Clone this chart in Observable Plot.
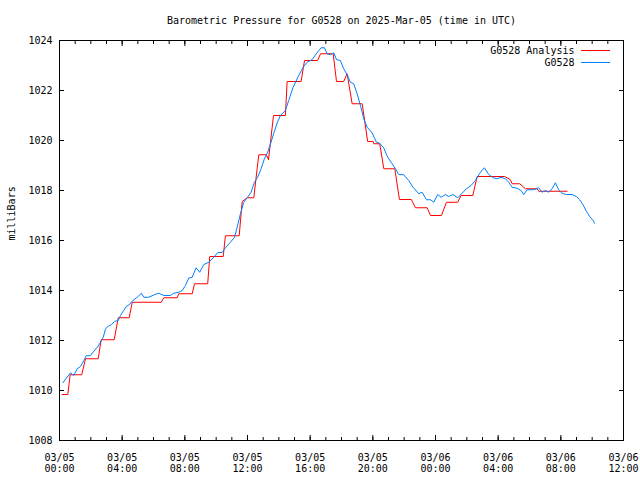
<!DOCTYPE html>
<html>
<head>
<meta charset="utf-8">
<script src="https://cdn.jsdelivr.net/npm/d3@7"></script>
<script src="https://cdn.jsdelivr.net/npm/@observablehq/plot@0.6"></script>
<style>
  html, body { margin: 0; padding: 0; background: #ffffff; }
  #chart { width: 640px; height: 480px; }
</style>
</head>
<body>
<div id="chart"></div>
<script>
// ---- text ----
const title = "Barometric Pressure for G0528 on 2025-Mar-05 (time in UTC)";
const yLabel = "milliBars";
const seriesNames = ["G0528 Analysis", "G0528"];
const seriesColors = ["#ff0000", "#0080ff"];

// ---- axes (hours after 2025-03-05 00:00 UTC) ----
const baseDate = "2025-03-05T00:00:00Z";
const xDomainHours = [0, 36];
const majorTickHours = [0, 4, 8, 12, 16, 20, 24, 28, 32, 36];
const minorTickHours = d3.range(0, 37, 1);
const yDomain = [1008, 1024];
const yTicks = [1008, 1010, 1012, 1014, 1016, 1018, 1020, 1022, 1024];

// ---- observed series G0528 (hour, mb) ----
const obsHour = [
  0.21, 0.70, 0.91, 1.13, 1.34, 1.55, 1.70, 1.96, 2.19, 2.41, 2.62, 2.79, 2.94, 3.11, 3.32, 3.53, 3.75, 3.89,
  4.10, 4.26, 4.47, 4.68, 4.96, 5.23, 5.38, 5.70, 6.08, 6.34, 6.66, 7.08, 7.29, 7.61, 7.83, 8.04, 8.25, 8.47,
  8.72, 8.95, 9.21, 9.53, 9.85, 10.10, 10.38, 10.59, 10.91, 11.17, 11.34, 11.55, 11.76, 11.98, 12.23, 12.44,
  12.65, 12.87, 13.08, 13.29, 13.47, 13.68, 13.89, 14.10, 14.42, 14.63, 14.91, 15.27, 15.55, 15.81, 16.13,
  16.34, 16.55, 16.70, 16.91, 17.08, 17.29, 17.50, 17.68, 17.93, 18.14, 18.36, 18.57, 18.78, 19.00, 19.21,
  19.42, 19.64, 19.96, 20.23, 20.44, 20.70, 20.95, 21.17, 21.44, 21.65, 21.97, 22.29, 22.57, 22.93, 23.15,
  23.42, 23.68, 23.89, 24.14, 24.36, 24.63, 24.84, 25.12, 25.42, 25.70, 25.97, 26.27, 26.55, 26.82, 27.12,
  27.40, 27.68, 27.93, 28.19, 28.46, 28.67, 28.89, 29.21, 29.46, 29.63, 29.85, 30.27, 30.59, 30.80, 31.01,
  31.23, 31.44, 31.65, 31.86, 32.08, 32.35, 32.72, 32.99, 33.20, 33.42, 33.63, 33.84, 34.10, 34.14
];
const obsValue = [
  1010.31, 1010.71, 1010.60, 1010.87, 1010.96, 1011.20, 1011.39, 1011.39, 1011.57, 1011.73, 1011.93, 1012.13, 1012.47, 1012.57, 1012.64, 1012.77, 1012.80, 1013.00,
  1013.20, 1013.36, 1013.44, 1013.60, 1013.73, 1013.89, 1013.73, 1013.73, 1013.84, 1013.89, 1013.80, 1013.80, 1013.89, 1013.93, 1014.00, 1014.20, 1014.50, 1014.53,
  1014.91, 1014.73, 1015.04, 1015.13, 1015.33, 1015.52, 1015.52, 1015.71, 1015.93, 1016.13, 1016.53, 1017.07, 1017.53, 1017.71, 1017.93, 1018.33,
  1018.53, 1018.87, 1019.27, 1019.53, 1019.87, 1020.29, 1020.70, 1021.00, 1021.20, 1021.60, 1022.13, 1022.60, 1022.93, 1023.13, 1023.24,
  1023.43, 1023.60, 1023.71, 1023.71, 1023.47, 1023.43, 1023.51, 1023.24, 1023.20, 1022.87, 1022.63, 1022.33, 1022.27, 1021.87, 1021.40,
  1020.87, 1020.53, 1020.30, 1019.93, 1019.89, 1019.70, 1019.33, 1019.13, 1018.87, 1018.64, 1018.63, 1018.40, 1018.13, 1017.87, 1017.93,
  1017.63, 1017.63, 1017.53, 1017.84, 1017.73, 1017.84, 1017.76, 1017.84, 1017.71, 1017.89, 1018.07, 1018.20, 1018.40, 1018.69, 1018.91,
  1018.64, 1018.51, 1018.47, 1018.53, 1018.47, 1018.33, 1018.13, 1018.09, 1018.00, 1017.84, 1018.03, 1018.03, 1018.11, 1017.93, 1018.00,
  1017.93, 1018.07, 1018.31, 1018.03, 1017.89, 1017.84, 1017.84, 1017.76, 1017.63, 1017.43, 1017.17, 1016.96, 1016.77, 1016.69
];

// ---- analysis series G0528 Analysis: level start hour, end hour, value ----
const anaStart = [0.17, 0.68, 1.66, 2.66, 3.75, 4.64, 6.66, 7.61, 8.62, 9.59, 10.59, 11.66, 11.98, 12.72, 13.34, 13.66, 14.53, 15.64, 16.66, 17.68, 18.36, 18.68, 19.67, 20.06, 20.70, 21.70, 22.72, 23.68, 24.70, 25.63, 26.66, 28.78, 28.89, 29.74, 30.59];
const anaEnd   = [0.53, 1.42, 2.47, 3.49, 4.45, 6.49, 7.51, 8.47, 9.46, 10.45, 11.47, 11.66, 12.40, 13.21, 13.34, 14.42, 15.42, 16.48, 17.47, 18.14, 18.36, 19.32, 20.02, 20.44, 21.40, 22.46, 23.47, 24.38, 25.42, 26.38, 28.42, 28.78, 29.37, 30.49, 32.40];
const anaValue = [1009.84, 1010.63, 1011.27, 1012.03, 1012.91, 1013.53, 1013.71, 1013.87, 1014.27, 1015.36, 1016.19, 1017.56, 1017.71, 1019.43, 1019.23, 1021.00, 1022.36, 1023.20, 1023.47, 1022.36, 1022.67, 1021.47, 1019.96, 1019.87, 1018.87, 1017.64, 1017.31, 1017.00, 1017.53, 1017.80, 1018.56, 1018.43, 1018.27, 1018.07, 1017.97];

// ---- build tables ----
const base = new Date(baseDate).getTime();
const toDate = h => new Date(base + h * 3600000);

const obs = obsHour.map((h, i) => ({time: toDate(h), value: obsValue[i]}));
const analysis = [];
anaStart.forEach((s, i) => {
  analysis.push({time: toDate(s), value: anaValue[i]});
  if (anaEnd[i] !== s) analysis.push({time: toDate(anaEnd[i]), value: anaValue[i]});
});

const fmtDay = d3.utcFormat("%m/%d");
const fmtTime = d3.utcFormat("%H:%M");
const blank = () => "";

const chart = Plot.plot({
  width: 640,
  height: 480,
  marginTop: 40,
  marginBottom: 40,
  marginLeft: 59,
  marginRight: 17,
  style: {fontFamily: "'DejaVu Sans Mono', monospace", fontSize: "10px", background: "#ffffff", color: "#000000"},
  x: {type: "utc", domain: xDomainHours.map(toDate)},
  y: {domain: yDomain},
  marks: [
    Plot.axisX(minorTickHours.map(toDate), {anchor: "bottom", tickSize: -3, tickFormat: blank, label: null}),
    Plot.axisX(minorTickHours.map(toDate), {anchor: "top", tickSize: -3, tickFormat: blank, label: null}),
    Plot.axisX(majorTickHours.map(toDate), {anchor: "top", tickSize: -5, tickFormat: blank, label: null}),
    Plot.axisX(majorTickHours.map(toDate), {
      anchor: "bottom", tickSize: -5, tickPadding: 17, label: null, lineHeight: 1.15,
      tickFormat: d => `${fmtDay(d)}\n${fmtTime(d)}`
    }),
    Plot.axisY(yTicks, {anchor: "left", tickSize: -5, tickPadding: 12, label: null, tickFormat: d => String(d)}),
    Plot.axisY(yTicks, {anchor: "right", tickSize: -5, tickFormat: blank, label: null}),
    Plot.frame({stroke: "#000000", strokeWidth: 1}),
    Plot.line(analysis, {x: "time", y: "value", stroke: seriesColors[0], strokeWidth: 1}),
    Plot.line(obs, {x: "time", y: "value", stroke: seriesColors[1], strokeWidth: 1}),
    Plot.text([title], {frameAnchor: "top", lineAnchor: "middle", dy: -20, fill: "#000000"}),
    Plot.text([yLabel], {frameAnchor: "left", lineAnchor: "middle", rotate: -90, dx: -48, fill: "#000000"}),
    Plot.text([seriesNames[0]], {frameAnchor: "top-right", lineAnchor: "middle", dx: -49, dy: 10.5, textAnchor: "end", fill: "#000000"}),
    Plot.text([seriesNames[1]], {frameAnchor: "top-right", lineAnchor: "middle", dx: -49, dy: 22.5, textAnchor: "end", fill: "#000000"})
  ]
});

// legend line samples
const svg = d3.select(chart);
const xr = 640 - 17;
[0, 1].forEach(i => {
  svg.append("line")
    .attr("x1", xr - 42).attr("x2", xr - 13)
    .attr("y1", 50.5 + i * 12).attr("y2", 50.5 + i * 12)
    .attr("stroke", seriesColors[i]).attr("stroke-width", 1);
});

document.getElementById("chart").appendChild(chart);
</script>
</body>
</html>
